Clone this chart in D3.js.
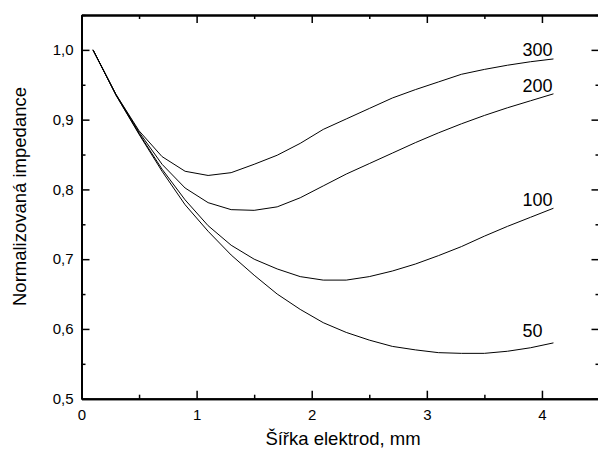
<!DOCTYPE html>
<html lang="cs">
<head>
<meta charset="UTF-8">
<style>
  body { margin: 0; background: #fff; }
  svg { display: block; }
  .axis text { font: 15px "Liberation Sans", Arial, sans-serif; fill: #000; }
  .axis path, .axis line { stroke: #000; }
  .curve { fill: none; stroke: #000; stroke-width: 1px; }
  .lbl { font: 18px "Liberation Sans", Arial, sans-serif; text-anchor: end; }
  .title { font: 18.5px "Liberation Sans", Arial, sans-serif; text-anchor: middle; }
</style>
</head>
<body>
<script src="https://cdn.jsdelivr.net/npm/d3@7"></script>
<script>
// sirka elektrod [mm]
var widths = [0.1, 0.3, 0.5, 0.7, 0.9, 1.1, 1.3, 1.5, 1.7, 1.9, 2.1, 2.3, 2.5, 2.7, 2.9, 3.1, 3.3, 3.5, 3.7, 3.9, 4.1];
// normalizovana impedance pro jednotlive krivky
var z300 = [1.000, 0.936, 0.884, 0.847, 0.826, 0.820, 0.824, 0.836, 0.849, 0.866, 0.886, 0.901, 0.916, 0.931, 0.943, 0.954, 0.965, 0.972, 0.978, 0.983, 0.987];
var z200 = [1.000, 0.936, 0.882, 0.836, 0.802, 0.781, 0.771, 0.770, 0.775, 0.788, 0.805, 0.822, 0.837, 0.852, 0.867, 0.881, 0.894, 0.906, 0.917, 0.927, 0.937];
var z100 = [1.000, 0.935, 0.880, 0.829, 0.785, 0.748, 0.720, 0.700, 0.686, 0.675, 0.670, 0.670, 0.675, 0.683, 0.693, 0.705, 0.718, 0.733, 0.747, 0.760, 0.773];
var z50  = [1.000, 0.935, 0.879, 0.826, 0.778, 0.740, 0.706, 0.677, 0.650, 0.628, 0.609, 0.595, 0.584, 0.575, 0.570, 0.566, 0.565, 0.565, 0.568, 0.573, 0.580];
var seriesNames = ["300", "200", "100", "50"];
var xTicks = [0, 1, 2, 3, 4];
var xMinor = [0.5, 1.5, 2.5, 3.5, 4.5];
var yTicks = [0.5, 0.6, 0.7, 0.8, 0.9, 1.0];
var yMinor = [0.55, 0.65, 0.75, 0.85, 0.95, 1.05];

var series = [z300, z200, z100, z50];
// posun popisku krivek (px) od posledniho bodu
var labelShift = [[-1, -3], [-1, -2], [-1, -2], [-11, -6]];

var W = 598, H = 450,
    pLeft = 81.5, pRight = 599.5, pTop = 15, pBottom = 398.7;

var svg = d3.select("body").append("svg").attr("width", W).attr("height", H);

var x = d3.scaleLinear().domain([0, 4.5]).range([pLeft, pRight]);
var y = d3.scaleLinear().domain([0.5, 1.05]).range([pBottom, pTop]);
var fmt = function(d) { return d3.format(".1f")(d).replace(".", ","); };

function drawAxis(ax, tr, values, size, withText) {
  var g = svg.append("g").attr("class", "axis").attr("transform", tr)
    .call(ax.tickValues(values).tickSizeInner(-size).tickSizeOuter(0));
  g.select(".domain").attr("stroke-width", 2);
  g.selectAll(".tick line").attr("stroke-width", 1.5);
  if (!withText) g.selectAll(".tick text").remove();
  return g;
}

// hlavni osy
drawAxis(d3.axisBottom(x).tickFormat(d3.format("d")).tickPadding(11), "translate(0," + pBottom + ")", xTicks, 8, true);
drawAxis(d3.axisBottom(x), "translate(0," + pBottom + ")", xMinor, 4, false);
drawAxis(d3.axisLeft(y).tickFormat(fmt).tickPadding(8), "translate(" + pLeft + ",0)", yTicks, 8, true);
drawAxis(d3.axisLeft(y), "translate(" + pLeft + ",0)", yMinor, 4, false);
// horni a prava osa (bez popisku)
drawAxis(d3.axisTop(x), "translate(0," + pTop + ")", xTicks, 8, false);
drawAxis(d3.axisTop(x), "translate(0," + pTop + ")", xMinor, 4, false);
drawAxis(d3.axisRight(y), "translate(" + pRight + ",0)", yTicks, 8, false);
drawAxis(d3.axisRight(y), "translate(" + pRight + ",0)", yMinor, 4, false);

var line = d3.line()
  .x(function(d, i) { return x(widths[i]); })
  .y(function(d) { return y(d); });

series.forEach(function(s, k) {
  svg.append("path").attr("class", "curve").attr("d", line(s));
  var n = s.length - 1;
  svg.append("text").attr("class", "lbl")
    .attr("x", x(widths[n]) + labelShift[k][0])
    .attr("y", y(s[n]) + labelShift[k][1])
    .text(seriesNames[k]);
});

svg.append("text").attr("class", "title")
  .attr("x", 343).attr("y", 445)
  .text("Šířka elektrod, mm");
svg.append("text").attr("class", "title")
  .attr("transform", "translate(26,196.5) rotate(-90)")
  .text("Normalizovaná impedance");
</script>
</body>
</html>
